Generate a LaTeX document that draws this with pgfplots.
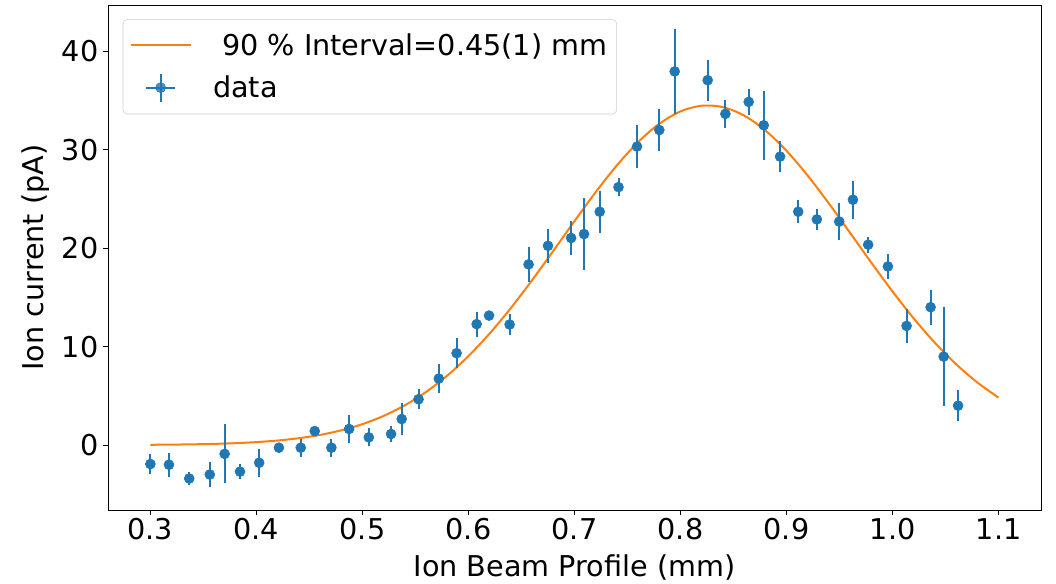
\documentclass[border=0pt]{standalone}
\usepackage{fontspec}
\setmainfont{DejaVu Sans}
\usepackage{pgfplots}
\pgfplotsset{compat=1.18}
\usepackage{pgfplotstable}
\definecolor{tabblue}{HTML}{1F77B4}
\definecolor{taborange}{HTML}{FF7F0E}

\pgfplotstableread{
x y ey
0.3000 -1.93 1.0
0.3175 -2.00 1.2
0.3366 -3.40 0.65
0.3560 -3.00 1.25
0.3700 -0.90 3.0
0.3845 -2.70 0.8
0.4026 -1.80 1.4
0.4212 -0.27 0.5
0.4418 -0.27 0.9
0.4550 1.42 0.3
0.4707 -0.27 0.9
0.4874 1.63 1.45
0.5060 0.78 0.9
0.5270 1.12 0.85
0.5370 2.64 1.6
0.5529 4.65 1.0
0.5720 6.75 1.5
0.5888 9.33 1.5
0.6077 12.28 1.27
0.6194 13.15 0.4
0.6388 12.24 1.1
0.6567 18.35 1.78
0.6750 20.24 1.7
0.6968 21.03 1.7
0.7090 21.43 3.64
0.7238 23.70 2.15
0.7415 26.20 0.9
0.7590 30.32 2.2
0.7800 32.00 2.15
0.7945 37.95 4.3
0.8256 37.06 2.07
0.8423 33.64 1.4
0.8643 34.86 1.35
0.8785 32.48 3.5
0.8939 29.30 1.6
0.9110 23.70 1.15
0.9286 22.92 1.1
0.9497 22.70 1.85
0.9626 24.92 1.95
0.9770 20.35 0.8
0.9956 18.14 1.3
1.0132 12.10 1.7
1.0359 14.00 1.76
1.0482 8.98 5.05
1.0618 4.00 1.6
}\datatable

\pgfplotstableread{
x y
0.30 0.024
0.32 0.042
0.34 0.070
0.36 0.116
0.38 0.187
0.40 0.295
0.42 0.457
0.44 0.692
0.46 1.028
0.48 1.493
0.50 2.123
0.52 2.958
0.54 4.036
0.56 5.392
0.58 7.052
0.60 9.034
0.62 11.333
0.64 13.920
0.66 16.745
0.68 19.722
0.70 22.748
0.72 25.692
0.74 28.416
0.76 30.775
0.78 32.637
0.80 33.894
0.82 34.468
0.84 34.323
0.86 33.470
0.88 31.960
0.90 29.884
0.92 27.363
0.94 24.534
0.96 21.540
0.98 18.520
1.00 15.592
1.02 12.854
1.04 10.377
1.06 8.203
1.08 6.350
1.10 4.813
}\fittable

\begin{document}
\begin{tikzpicture}
\path[use as bounding box] (-81pt,-55.5pt) rectangle (711pt,382.5pt);
\begin{axis}[
  at={(0pt,0pt)}, anchor=south west,
  scale only axis, width=699.75pt, height=378.75pt,
  xmin=0.26, xmax=1.14, ymin=-6.6, ymax=44.7,
  xtick={0.3,0.4,0.5,0.6,0.7,0.8,0.9,1.0,1.1},
  xticklabels={0.3,0.4,0.5,0.6,0.7,0.8,0.9,1.0,1.1},
  ytick={0,10,20,30,40},
  tick align=outside, tick pos=left, major tick length=3.7pt,
  tick style={black, line width=0.6pt},
  axis line style={line width=0.6pt},
  ticklabel style={font=\fontsize{21.5}{25}\selectfont},
  xticklabel style={yshift=1pt},
  /pgf/number format/assume math mode=true,
  xlabel={Ion Beam Profile (mm)},
  ylabel={Ion current (pA)},
  label style={font=\fontsize{21.5}{25}\selectfont},
  xlabel style={at={(axis description cs:0.5,-0.114)}, anchor=center},
  ylabel style={at={(axis description cs:-0.078,0.5)}, anchor=center},
  legend cell align=left,
  legend style={at={(rel axis cs:0.0158,0.9717)}, anchor=north west,
    draw=black!20, rounded corners=3pt, fill=white, fill opacity=0.8, text opacity=1,
    font=\fontsize{21.5}{25}\selectfont, inner xsep=5pt, inner ysep=8.5pt,
    row sep=9.5pt,
    /tikz/every odd column/.append style={column sep=14pt}},
]
\addplot[taborange, line width=1.5pt, no marks, smooth,
  legend image code/.code={\draw[taborange, line width=1.5pt] (0pt,0pt) -- (45pt,0pt);}]
  table[x=x,y=y] {\fittable};
\addlegendentry{\ 90 \% Interval=0.45(1) mm}
\addplot[tabblue, only marks, mark=*, mark size=3.75pt,
  mark options={draw=tabblue, fill=tabblue},
  legend image code/.code={
    \draw[tabblue, line width=1.5pt] (11.5pt,0pt) -- (33.5pt,0pt);
    \draw[tabblue, line width=1.5pt] (22.5pt,-10.5pt) -- (22.5pt,10.5pt);
    \fill[tabblue] (22.5pt,0pt) circle (3.75pt);},
  error bars/.cd, y dir=both, y explicit, error mark=none,
  error bar style={line width=1.5pt, tabblue}]
  table[x=x,y=y,y error=ey] {\datatable};
\addlegendentry{data}
\end{axis}
\end{tikzpicture}
\end{document}
